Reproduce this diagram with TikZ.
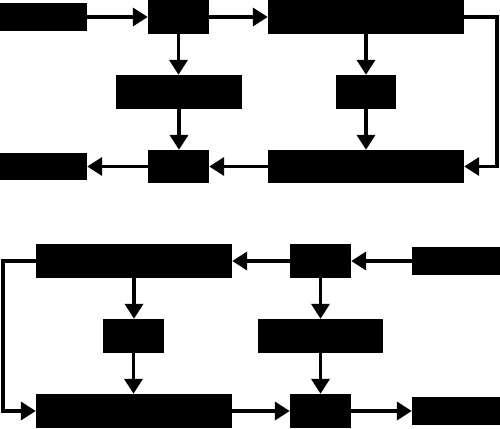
\documentclass[tikz,border=0pt]{standalone}
\usepackage{tikz}
\usetikzlibrary{arrows.meta}

\begin{document}
\begin{tikzpicture}[x=1pt,y=1pt,yscale=-1,
  blk/.style={fill=black,inner sep=0pt},
  arr/.style={line width=3.6pt,-{Triangle[length=15pt,width=18pt]}}]

\useasboundingbox (0,0) rectangle (500,428);

% upper chart
\node [blk,minimum width=87pt,minimum height=28pt] (a) at (43.5,17) {};
\node [blk,minimum width=61pt,minimum height=34pt] (b) at (178.5,17) {};
\node [blk,minimum width=196pt,minimum height=34pt] (c) at (366,17) {};
\node [blk,minimum width=126pt,minimum height=34pt] (d) at (179,92) {};
\node [blk,minimum width=60pt,minimum height=34pt] (e) at (366,92) {};
\node [blk,minimum width=87pt,minimum height=27pt] (f) at (43.5,166.5) {};
\node [blk,minimum width=61pt,minimum height=33pt] (g) at (178.5,166.5) {};
\node [blk,minimum width=196pt,minimum height=33pt] (h) at (366,166.5) {};
\coordinate (cr) at (497,17);

\draw [arr] (a) -- (b);
\draw [arr] (b) -- (c);
\draw [arr] (b.south) -- (b.south |- d.north);
\draw [arr] (d.south) -- (d.south |- g.north);
\draw [arr] (c) -- (e);
\draw [arr] (e) -- (h);
\draw [arr] (c.east) -- (cr) |- (h.east);
\draw [arr] (h) -- (g);
\draw [arr] (g) -- (f);

% lower chart
\node [blk,minimum width=196pt,minimum height=34pt] (i) at (134,261) {};
\node [blk,minimum width=61pt,minimum height=34pt] (j) at (320.5,261) {};
\node [blk,minimum width=88pt,minimum height=28pt] (k) at (456,261) {};
\node [blk,minimum width=61pt,minimum height=34pt] (l) at (133.5,336) {};
\node [blk,minimum width=125pt,minimum height=34pt] (m) at (320.5,336) {};
\node [blk,minimum width=196pt,minimum height=34pt] (n) at (134,411) {};
\node [blk,minimum width=61pt,minimum height=34pt] (o) at (320.5,411) {};
\node [blk,minimum width=88pt,minimum height=28pt] (p) at (456,411) {};
\coordinate (il) at (3,261);

\draw [arr] (k) -- (j);
\draw [arr] (j) -- (i);
\draw [arr] (i.south) -- (i.south |- l.north);
\draw [arr] (l.south) -- (l.south |- n.north);
\draw [arr] (j) -- (m);
\draw [arr] (m) -- (o);
\draw [arr] (i.west) -- (il) |- (n.west);
\draw [arr] (n) -- (o);
\draw [arr] (o) -- (p);

\end{tikzpicture}
\end{document}
